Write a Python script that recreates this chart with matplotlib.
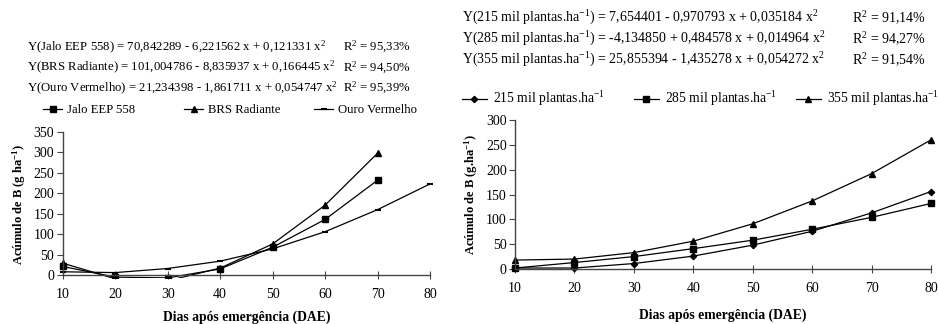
import matplotlib
matplotlib.use('Agg')
import matplotlib.pyplot as plt

plt.rcParams['font.family'] = 'Liberation Serif'
plt.rcParams['mathtext.fontset'] = 'custom'
plt.rcParams['mathtext.rm'] = 'Liberation Serif'
plt.rcParams['mathtext.it'] = 'Liberation Serif:italic'
plt.rcParams['mathtext.bf'] = 'Liberation Serif:bold'

# Dias após emergência
dae = [10, 20, 30, 40, 50, 60, 70, 80]

# Acúmulo de B por cultivar (g/ha)
jalo = [21, -5, -7, 15, 68, 136, 232]
brs = [29, -9, -14, 17, 76, 171, 298]
ouro = [8, 6, 16, 34, 64, 106, 160, 223]

# Acúmulo de B por população de plantas (g/ha)
p215 = [2, 2, 11, 26, 48, 76, 113, 156]
p285 = [2, 13, 25, 41, 58, 80, 104, 132]
p355 = [18, 20, 33, 56, 91, 137, 192, 260]

eq_cult = [
    (r'Y(Jalo EEP 558) = 70,842289 - 6,221562 x + 0,121331 x$^{2}$', r'R$^{2}$ = 95,33%'),
    (r'Y(BRS Radiante) = 101,004786 - 8,835937 x + 0,166445 x$^{2}$', r'R$^{2}$ = 94,50%'),
    (r'Y(Ouro Vermelho) = 21,234398 - 1,861711 x + 0,054747 x$^{2}$', r'R$^{2}$ = 95,39%'),
]
eq_pop = [
    (r'Y(215 mil plantas.ha$^{-1}$) = 7,654401 - 0,970793 x + 0,035184 x$^{2}$', r'R$^{2}$ = 91,14%'),
    (r'Y(285 mil plantas.ha$^{-1}$) = -4,134850 + 0,484578 x + 0,014964 x$^{2}$', r'R$^{2}$ = 94,27%'),
    (r'Y(355 mil plantas.ha$^{-1}$) = 25,855394 - 1,435278 x + 0,054272 x$^{2}$', r'R$^{2}$ = 91,54%'),
]

W, H = 938, 324
fig = plt.figure(figsize=(W / 100, H / 100), dpi=100)


def px_axes(x0, x1, ytop, ybot):
    return fig.add_axes([x0 / W, 1 - ybot / H, (x1 - x0) / W, (ybot - ytop) / H])


def estilo(ax, ymax):
    ax.spines['top'].set_visible(False)
    ax.spines['right'].set_visible(False)
    for s in ('left', 'bottom'):
        ax.spines[s].set_color('#444444')
        ax.spines[s].set_linewidth(1.0)
    ax.set_xticks(dae)
    ax.set_yticks(range(0, ymax + 1, 50))
    ax.tick_params(axis='x', direction='inout', length=6, labelsize=10, pad=6, color='#444444')
    ax.tick_params(axis='y', direction='out', length=4, labelsize=10, pad=2, color='#444444')


def item_legenda(linha, x, y, fs, hl, tp):
    # uma entrada de legenda posicionada em pixels da figura
    fig.legend(handles=[linha], loc='center left', bbox_to_anchor=(x / W, 1 - y / H),
               bbox_transform=fig.transFigure, frameon=False, fontsize=fs,
               handlelength=hl, handletextpad=tp, borderaxespad=0, borderpad=0)


kw = dict(color='black', lw=0.9, markersize=3.8)

# ---- cultivares ----
ax1 = px_axes(52.2, 440.5, 132, 277.5)
ax1.set_xlim(8, 82)
ax1.set_ylim(-6, 350)
ax1.spines['left'].set_position(('data', 10))
ax1.spines['left'].set_bounds(0, 350)
ax1.spines['bottom'].set_position(('data', 0))
ax1.spines['bottom'].set_bounds(10, 80)
l1, = ax1.plot(dae[:7], jalo, marker='s', label='Jalo EEP 558', **kw)
l2, = ax1.plot(dae[:7], brs, marker='^', label='BRS Radiante', **kw)
l3, = ax1.plot(dae, ouro, marker='_', label='Ouro Vermelho', markeredgewidth=1.5, **kw)
estilo(ax1, 350)
ax1.set_xlabel('Dias após emergência (DAE)', fontsize=9.8, fontweight='bold', labelpad=7)
ax1.set_ylabel('Acúmulo de B (g ha$^{\\mathbf{-1}}$)', fontsize=9, fontweight='bold', labelpad=4)
for linha, xl in zip([l1, l2, l3], [43, 184, 314]):
    item_legenda(linha, xl, 110, 9.2, 1.5, 0.35)

# ---- populações ----
ax2 = px_axes(515, 931, 120, 269)
ax2.set_xlim(10, 80)
ax2.set_ylim(0, 300)
m1, = ax2.plot(dae, p215, marker='D', label='215 mil plantas.ha$^{-1}$', clip_on=False, **dict(kw, markersize=3.2))
m2, = ax2.plot(dae, p285, marker='s', label='285 mil plantas.ha$^{-1}$', clip_on=False, **kw)
m3, = ax2.plot(dae, p355, marker='^', label='355 mil plantas.ha$^{-1}$', clip_on=False, **kw)
estilo(ax2, 300)
ax2.set_xlabel('Dias após emergência (DAE)', fontsize=9.8, fontweight='bold', labelpad=10)
ax2.set_ylabel('Acúmulo de B (g.ha$^{\\mathbf{-1}}$)', fontsize=9, fontweight='bold', labelpad=4)
for linha, xl in zip([m1, m2, m3], [462, 634, 796]):
    item_legenda(linha, xl, 99, 9.8, 1.8, 0.45)

# equações de regressão
for i, (eq, r2) in enumerate(eq_cult):
    y = 1 - (47 + 20.5 * i) / H
    fig.text(27 / W, y, eq, fontsize=9.2, va='center')
    fig.text(343 / W, y, r2, fontsize=9.2, va='center')

for i, (eq, r2) in enumerate(eq_pop):
    y = 1 - (18 + 21 * i) / H
    fig.text(462 / W, y, eq, fontsize=10, va='center')
    fig.text(852 / W, y, r2, fontsize=10, va='center')

fig.savefig('out.png', dpi=100)
